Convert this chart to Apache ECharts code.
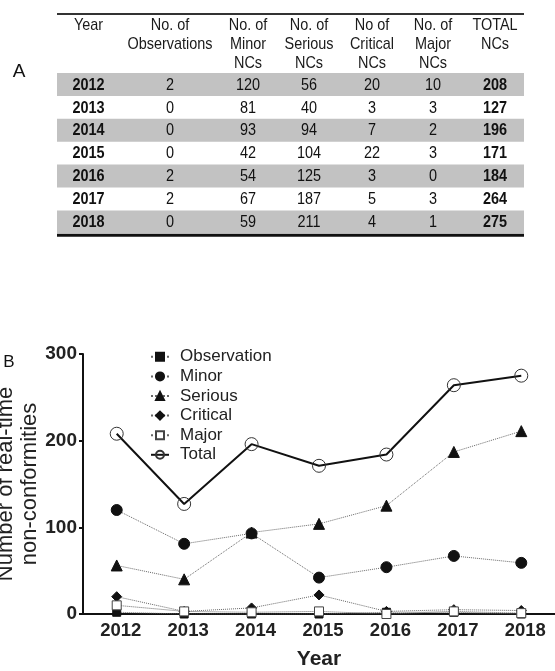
<!DOCTYPE html>
<html><head><meta charset="utf-8">
<script src="https://cdn.jsdelivr.net/npm/echarts@6/dist/echarts.min.js"></script>
<style>html,body{margin:0;padding:0;background:#fff}#c{width:555px;height:671px}</style>
</head><body><div id="c"></div>
<script>
// ---- data ----
const years = ['2012','2013','2014','2015','2016','2017','2018'];
const observation = [2,0,0,0,2,2,0];
const minor = [120,81,93,42,54,67,59];
const serious = [56,40,94,104,125,187,211];
const critical = [20,3,7,22,3,5,4];
const major = [10,3,2,3,0,3,1];
const total = [208,127,196,171,184,264,275];
const tableHeaders = ['Year','No. of\nObservations','No. of\nMinor\nNCs','No. of\nSerious\nNCs','No of\nCritical\nNCs','No. of\nMajor\nNCs','TOTAL\nNCs'];
const seriesNames = ['Observation','Minor','Serious','Critical','Major','Total'];

// ---- layout ----
const SANS = '"Liberation Sans",Arial,Helvetica,sans-serif';
const tLeft = 57, tRight = 524, tTop = 14, bandTop = 73, rowH = 22.9;
const colX = [88.5,170,248,309,372,433,495];
const SX = 0.85;

const graphics = [];
years.forEach((y,i)=>{
  if(i%2===0){
    graphics.push({type:'rect',shape:{x:tLeft,y:bandTop+i*rowH,width:tRight-tLeft,height:rowH},style:{fill:'#c2c2c2'},z:1});
  }
});
graphics.push({type:'line',shape:{x1:tLeft,y1:tTop,x2:tRight,y2:tTop},style:{stroke:'#333',lineWidth:2},z:2});
const bottomY = bandTop+years.length*rowH+2;
graphics.push({type:'line',shape:{x1:tLeft,y1:bottomY,x2:tRight,y2:bottomY},style:{stroke:'#111',lineWidth:3},z:2});
tableHeaders.forEach((h,j)=>{
  graphics.push({type:'text',x:colX[j],y:tTop+1.5,scaleX:SX,style:{text:h,font:'17px '+SANS,fill:'#1a1a1a',align:'center',verticalAlign:'top',lineHeight:19},z:3});
});
const cols = [years,observation,minor,serious,critical,major,total];
years.forEach((y,i)=>{
  cols.forEach((c,j)=>{
    const bold = (j===0||j===6);
    graphics.push({type:'text',x:colX[j],y:bandTop+i*rowH+rowH/2+0.5,scaleX:SX,style:{text:String(c[i]),font:(bold?'bold ':'')+'17px '+SANS,fill:'#111',align:'center',verticalAlign:'middle'},z:3});
  });
});
graphics.push({type:'text',x:19,y:72,style:{text:'A',font:'19px '+SANS,fill:'#111',align:'center',verticalAlign:'middle'}});
graphics.push({type:'text',x:9,y:362,style:{text:'B',font:'17px '+SANS,fill:'#111',align:'center',verticalAlign:'middle'}});
graphics.push({type:'text',x:17.5,y:484,rotation:Math.PI/2,style:{text:'Number of real-time\nnon-conformities',font:'22px '+SANS,fill:'#222',align:'center',verticalAlign:'middle',lineHeight:24}});

const dotted = {color:'#666',width:1,type:'dotted'};
const mk = (name,data,symbol,size,fill,extra)=>Object.assign({
  name,type:'line',data,symbol,symbolSize:size,
  lineStyle:dotted,itemStyle:{color:fill,borderColor:'#111',borderWidth:1},
  emphasis:{disabled:true},animation:false
},extra||{});

const option = {
  animation:false,
  graphic:graphics,
  grid:{left:83,right:-5,top:354,bottom:53},
  legend:{
    orient:'vertical',left:145,top:342,itemGap:0,itemWidth:18,itemHeight:10,
    textStyle:{fontSize:17,fontFamily:SANS,color:'#222',lineHeight:19.6,padding:[0,0,0,6]},
    data:seriesNames
  },
  xAxis:{type:'category',data:years,boundaryGap:true,
    axisLine:{lineStyle:{color:'#111',width:2}},axisTick:{show:false},
    axisLabel:{fontFamily:SANS,fontWeight:'bold',fontSize:18.5,color:'#222',margin:7,padding:[0,0,0,8]},
    name:'Year',nameLocation:'middle',nameGap:35,
    nameTextStyle:{fontFamily:SANS,fontWeight:'bold',fontSize:21,color:'#222'}},
  yAxis:{type:'value',min:0,max:300,interval:100,
    axisLine:{show:true,lineStyle:{color:'#111',width:2}},
    axisTick:{show:true,length:4,lineStyle:{color:'#111',width:2}},
    splitLine:{show:false},
    axisLabel:{fontFamily:SANS,fontWeight:'bold',fontSize:19,color:'#222',margin:6}},
  series:[
    mk('Observation',observation,'rect',8,'#111'),
    mk('Minor',minor,'circle',11,'#111'),
    mk('Serious',serious,'triangle',11,'#111'),
    mk('Critical',critical,'diamond',10,'#111'),
    mk('Major',major,'rect',9,'#fff',{itemStyle:{color:'#fff',borderColor:'#444',borderWidth:1}}),
    mk('Total',total,'circle',13,'#fff',{lineStyle:{color:'#111',width:2,type:'solid'},itemStyle:{color:'rgba(255,255,255,0)',borderColor:'#333',borderWidth:1},z:3})
  ]
};
const chart = echarts.init(document.getElementById('c'),null,{renderer:'canvas'});
chart.setOption(option);
</script></body></html>
